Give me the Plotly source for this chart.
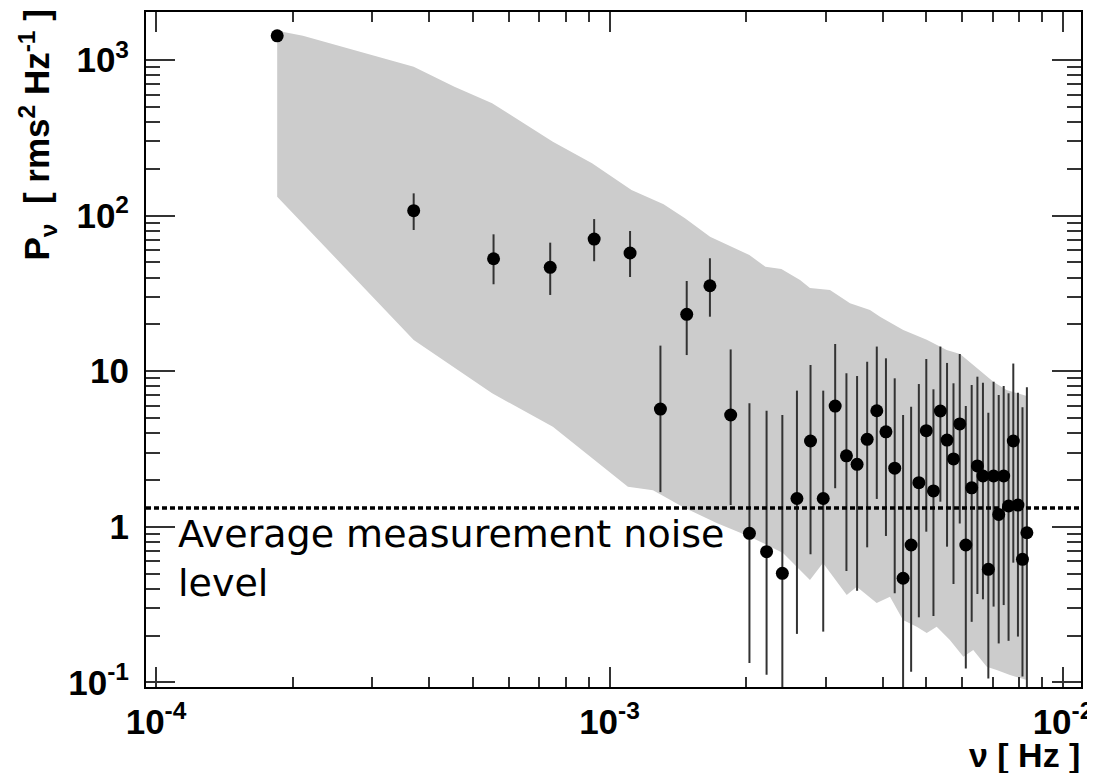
import plotly.graph_objects as go

# ---------------- data ----------------
freq_hz = [1.85e-4, 3.70e-4, 5.55e-4, 7.40e-4, 9.25e-4, 1.11e-3, 1.295e-3, 1.48e-3,
           1.665e-3, 1.85e-3, 2.035e-3, 2.22e-3, 2.405e-3, 2.59e-3, 2.775e-3, 2.96e-3,
           3.145e-3, 3.33e-3, 3.515e-3, 3.70e-3, 3.885e-3, 4.07e-3, 4.255e-3, 4.44e-3,
           4.625e-3, 4.81e-3, 4.995e-3, 5.18e-3, 5.365e-3, 5.55e-3, 5.735e-3, 5.92e-3,
           6.105e-3, 6.29e-3, 6.475e-3, 6.66e-3, 6.845e-3, 7.03e-3, 7.215e-3, 7.40e-3,
           7.585e-3, 7.77e-3, 7.955e-3, 8.14e-3, 8.325e-3]
power = [1430, 107.5, 52.8, 46.5, 70.7, 57.5, 5.71, 23.2,
         35.4, 5.23, 0.908, 0.692, 0.502, 1.52, 3.56, 1.52,
         5.97, 2.86, 2.52, 3.65, 5.57, 4.08, 2.38, 0.467,
         0.764, 1.92, 4.15, 1.70, 5.55, 3.61, 2.73, 4.58,
         0.764, 1.78, 2.46, 2.12, 0.533, 2.12, 1.20, 2.12,
         1.36, 3.56, 1.38, 0.618, 0.916]
power_hi = [1430, 139, 75.8, 67, 95, 79.6, 14.6, 38,
            53.2, 13.8, 6.22, 5.57, 5.23, 7.5, 10.96, 7.5,
            14.96, 9.7, 9.31, 11.5, 14.4, 12.1, 9.0, 5.23,
            5.91, 8.27, 11.98, 7.65, 14.4, 11.3, 8.36, 12.9,
            5.98, 8.15, 9.22, 8.43, 5.41, 8.56, 7.03, 8.03,
            7.21, 11.2, 7.27, 5.86, 7.88]
power_lo = [1430, 80.8, 36.2, 30.9, 50.9, 40.3, 1.67, 12.7,
            22.4, 1.38, 0.133, 0.112, 0.05, 0.205, 0.666, 0.212,
            1.77, 0.52, 0.388, 0.738, 1.51, 0.873, 0.374, 0.05,
            0.117, 0.262, 0.93, 0.267, 1.45, 0.745, 0.429, 1.05,
            0.123, 0.245, 0.37, 0.342, 0.106, 0.307, 0.178, 0.314,
            0.185, 0.588, 0.197, 0.109, 0.05]

band_up_freq = [1.85e-4, 2.108e-4, 3.085e-4, 3.70e-4, 4.55e-4, 5.51e-4, 7.50e-4, 9.15e-4,
                1.118e-3, 1.316e-3, 1.467e-3, 1.666e-3, 2.034e-3, 2.207e-3, 2.393e-3,
                2.631e-3, 2.767e-3, 3.063e-3, 3.391e-3, 3.753e-3, 3.949e-3, 4.444e-3,
                5.006e-3, 5.54e-3, 5.93e-3, 6.45e-3, 7.02e-3, 7.51e-3, 7.90e-3, 8.32e-3]
band_up = [1542, 1432, 1050, 906, 673, 527, 298.5, 216.8,
           146, 118.2, 96.1, 73.2, 55.8, 46.9, 45.4,
           38.6, 34.2, 33.3, 27.3, 24.7, 22.4, 18.4,
           15.9, 13.7, 12.9, 10.5, 8.56, 7.57, 7.21, 6.93]
band_lo_freq = [1.85e-4, 3.70e-4, 5.51e-4, 7.50e-4, 1.098e-3, 1.247e-3, 1.452e-3, 1.723e-3,
                2.040e-3, 2.413e-3, 2.767e-3, 2.956e-3, 3.335e-3, 3.509e-3, 3.883e-3,
                4.154e-3, 4.438e-3, 4.757e-3, 5.006e-3, 5.266e-3, 5.63e-3, 6.03e-3,
                6.34e-3, 6.79e-3, 7.14e-3, 7.64e-3, 8.04e-3, 8.32e-3]
band_lo = [132.3, 15.87, 7.21, 4.40, 1.81, 1.72, 1.34, 1.057,
           0.864, 0.679, 0.455, 0.585, 0.364, 0.412, 0.324,
           0.355, 0.252, 0.228, 0.208, 0.228, 0.187, 0.146,
           0.1615, 0.126, 0.120, 0.1116, 0.1067, 0.1036]

noise_level = 1.32

x_tickvals = [1e-4, 1e-3, 1e-2]
x_ticktext = ["10<sup>-4</sup>", "10<sup>-3</sup>", "10<sup>-2</sup>"]
y_tickvals = [0.1, 1, 10, 100, 1000]
y_ticktext = ["10<sup>-1</sup>", "1", "10", "10<sup>2</sup>", "10<sup>3</sup>"]
x_minor = [m * d for d in (1e-4, 1e-3) for m in range(2, 10)]
y_minor = [m * d for d in (0.1, 1, 10, 100) for m in range(2, 10)]

# page offset of the browser body (8 px) is compensated in the margins
OFF = 8
L, T, W, H = 146 - OFF, 12 - OFF, 935, 675
FW, FH = 1095 - OFF, 773 - OFF

# ---------------- figure ----------------
fig = go.Figure()

fig.add_trace(go.Scatter(
    x=band_up_freq + band_lo_freq[::-1],
    y=band_up + band_lo[::-1],
    fill="toself", fillcolor="#cccccc", mode="lines",
    line=dict(width=0, color="#cccccc"), hoverinfo="skip", showlegend=False))

fig.add_trace(go.Scatter(
    x=freq_hz, y=power, mode="markers",
    marker=dict(color="black", size=13),
    error_y=dict(type="data", symmetric=False,
                 array=[h - p for h, p in zip(power_hi, power)],
                 arrayminus=[p - l for p, l in zip(power, power_lo)],
                 color="#333333", thickness=2, width=0),
    showlegend=False))

fig.add_shape(type="line", xref="paper", x0=0, x1=1, yref="y",
              y0=noise_level, y1=noise_level,
              line=dict(color="black", width=3.5, dash="5px,3px"), layer="above")

def px_x(sx):
    return (sx - OFF - L) / W

def px_y(sy):
    return (T + H - (sy - OFF)) / H

fig.add_annotation(text="Average measurement noise<br>level", xref="paper", yref="paper",
                   x=px_x(176), y=px_y(510), xanchor="left", yanchor="top",
                   align="left", showarrow=False,
                   font=dict(family="DejaVu Sans", size=38, color="black"))

fig.add_annotation(text="<b>P<sub>ν</sub>  [ rms<sup>2</sup> Hz<sup>-1</sup> ]</b>",
                   xref="paper", yref="paper", x=px_x(37), y=px_y(8),
                   xanchor="center", yanchor="top", textangle=-90, showarrow=False,
                   font=dict(family="Liberation Sans", size=35, color="black"))

fig.add_annotation(text="<b>ν [ Hz ]</b>", xref="paper", yref="paper",
                   x=px_x(1082), y=px_y(755), xanchor="right", yanchor="middle",
                   showarrow=False,
                   font=dict(family="Liberation Sans", size=34, color="black"))

axis_common = dict(type="log", showgrid=False, zeroline=False, showline=True,
                   linecolor="black", linewidth=2, mirror="ticks", ticks="inside",
                   tickcolor="#333333", tickwidth=2, tickmode="array", automargin=False,
                   tickfont=dict(family="Liberation Sans", size=35, color="black", weight="bold"))

fig.update_xaxes(**axis_common, range=[-4.0221, -1.9603], tickvals=x_tickvals,
                 ticktext=x_ticktext, ticklen=20, ticklabelstandoff=3,
                 minor=dict(tickmode="array", tickvals=x_minor, ticks="inside", ticklen=10,
                            tickcolor="#333333", tickwidth=2, showgrid=False))
fig.update_yaxes(**axis_common, range=[-1.0296, 3.3085], tickvals=y_tickvals,
                 ticktext=y_ticktext, ticklen=29, ticklabelstandoff=8,
                 minor=dict(tickmode="array", tickvals=y_minor, ticks="inside", ticklen=14,
                            tickcolor="#333333", tickwidth=2, showgrid=False))

fig.update_layout(width=FW, height=FH, paper_bgcolor="white", plot_bgcolor="white",
                  margin=dict(l=L, r=FW - L - W, t=T, b=FH - T - H, autoexpand=False),
                  showlegend=False)

fig.write_html("out.html")
